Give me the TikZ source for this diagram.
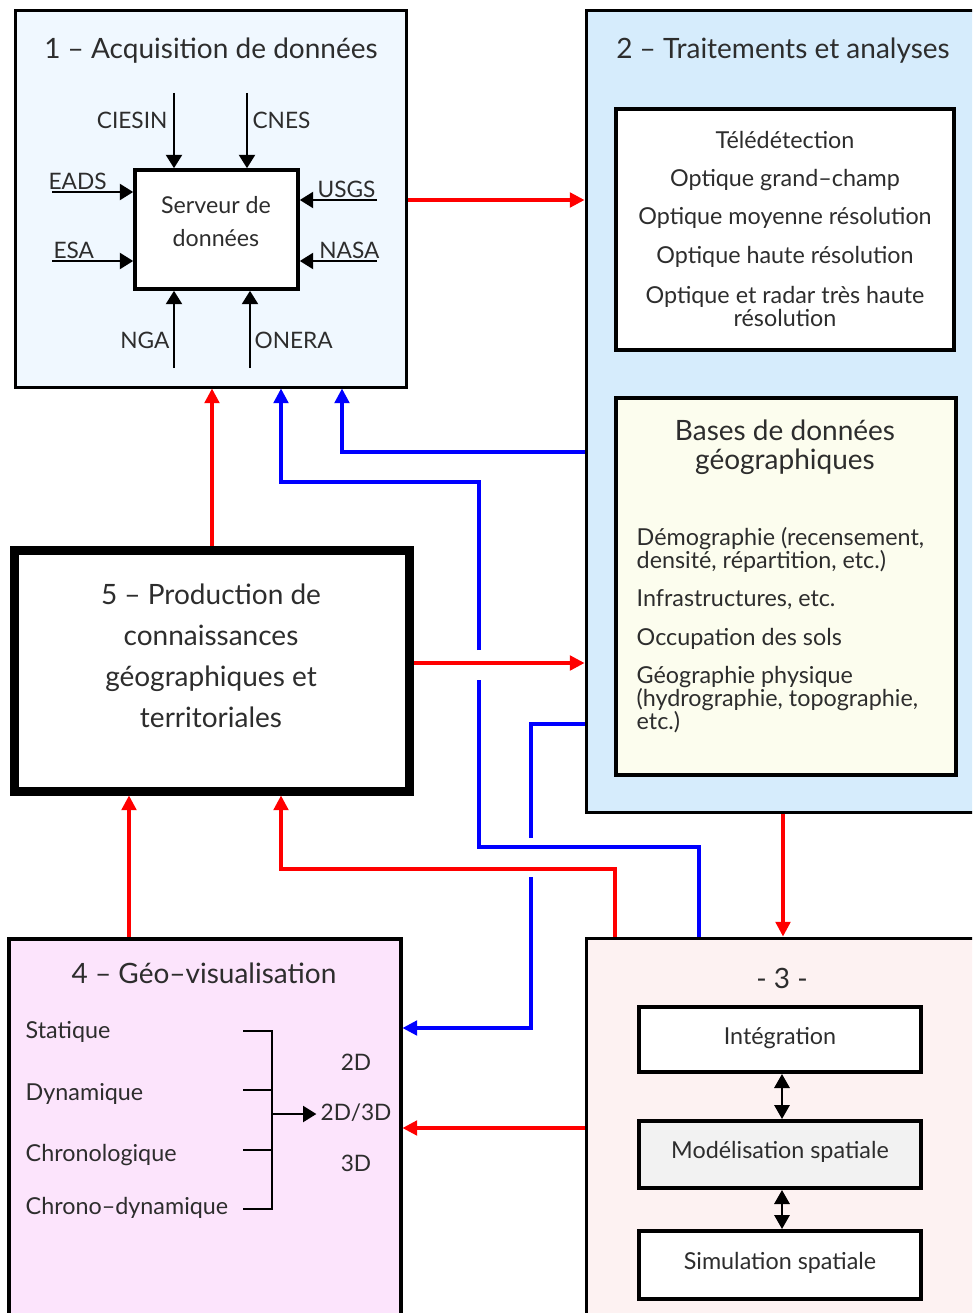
\documentclass[tikz,border=0pt]{standalone}
\usepackage{fontspec}
\setmainfont{Lato}
\usetikzlibrary{arrows.meta,fit,calc}
\definecolor{txt}{RGB}{45,45,45}
\definecolor{fillA}{RGB}{240,248,255}
\definecolor{fillB}{RGB}{214,236,252}
\definecolor{fillBD}{RGB}{252,253,238}
\definecolor{fillC}{RGB}{253,242,242}
\definecolor{fillD}{RGB}{252,228,252}
\definecolor{fillM}{RGB}{242,242,242}
\definecolor{lnred}{RGB}{255,0,0}
\definecolor{lnblue}{RGB}{0,0,255}
\begin{document}
\begin{tikzpicture}[x=0.75pt,y=-0.75pt,
  every node/.style={text=txt},
  bigbox/.style={draw=black, inner sep=0pt, line width=2.25pt},
  subbox/.style={draw=black, inner sep=0pt, line width=3pt},
  ftitle/.style={font=\fontsize{21}{25}\selectfont},
  fitem/.style={font=\fontsize{17.5}{17.25}\selectfont, align=center},
  fsmall/.style={font=\fontsize{17}{20}\selectfont},
  redln/.style={draw=lnred, line width=2.4pt},
  redarr/.style={redln, -{Triangle[length=11pt,width=11pt]}},
  blueln/.style={draw=lnblue, line width=2.4pt},
  bluearr/.style={blueln, -{Triangle[length=11pt,width=11pt]}},
  blkarr/.style={draw=black, line width=1.6pt, -{Triangle[length=10pt,width=12pt]}},
  dblarr/.style={draw=black, line width=1.6pt, {Triangle[length=10.5pt,width=11.5pt]}-{Triangle[length=10.5pt,width=11.5pt]}},
  brk/.style={draw=black, line width=1.2pt}
]
\useasboundingbox (0,0) rectangle (972,1313);
\clip (0,0) rectangle (972,1313);

% ---------- Box 1 ----------
\node[bigbox, fill=fillA, fit={(15,11) (406,387)}] (b1) {};
\node[ftitle] (t1) at (211,51) {1 – Acquisition de données};
\node[subbox, line width=2.7pt, fill=white, fit={(135,170) (298,289)}] (srv) {};
\node[align=center, font=\fontsize{17.4}{24.75}\selectfont] (srvt) at (216,222) {Serveur de\\données};
\coordinate (cA) at (174,93);
\coordinate (cB) at (247,93);
\coordinate (cC) at (52,192);
\coordinate (cD) at (52,261);
\coordinate (cE) at (377,200);
\coordinate (cF) at (377,261);
\coordinate (cG) at (174,368);
\coordinate (cH) at (250,368);
\draw[blkarr] (cA) -- (cA |- srv.north);
\draw[blkarr] (cB) -- (cB |- srv.north);
\draw[blkarr] (cC) -- (srv.west |- cC);
\draw[blkarr] (cD) -- (srv.west |- cD);
\draw[blkarr] (cE) -- (srv.east |- cE);
\draw[blkarr] (cF) -- (srv.east |- cF);
\draw[blkarr] (cG) -- (cG |- srv.south);
\draw[blkarr] (cH) -- (cH |- srv.south);
\node[fsmall, anchor=east, inner sep=1pt] (lciesin) at (169,120) {CIESIN};
\node[fsmall, anchor=west, inner sep=1pt] (lcnes) at (251,120) {CNES};
\node[fsmall, anchor=south west, inner sep=1pt] (leads) at (47,191) {EADS};
\node[fsmall, anchor=south west, inner sep=1pt] (lesa) at (52,260) {ESA};
\node[fsmall, anchor=south east, inner sep=1pt] (lusgs) at (377,199) {USGS};
\node[fsmall, anchor=south east, inner sep=1pt] (lnasa) at (381,260) {NASA};
\node[fsmall, anchor=east, inner sep=1pt] (lnga) at (171,340) {NGA};
\node[fsmall, anchor=west, inner sep=1pt] (lonera) at (253,340) {ONERA};

% ---------- Box 2 ----------
\node[bigbox, fill=fillB, fit={(586,11) (990,812)}] (b2) {};
\node[ftitle] (t2) at (783,51) {2 – Traitements et analyses};
\node[subbox, fill=white, fit={(616,109) (954,350)}] (tel) {};
\node[fitem] (tel1) at (785,140) {Télédétection};
\node[fitem] (tel2) at (785,180) {Optique grand–champ};
\node[fitem] (tel3) at (785,218) {Optique moyenne résolution};
\node[fitem] (tel4) at (785,257) {Optique haute résolution};
\node[fitem] (tel5) at (785,306) {Optique et radar très haute\\résolution};
\node[subbox, fill=fillBD, fit={(616,398) (956,775)}] (bdd) {};
\node[ftitle, align=center, font=\fontsize{21}{21.75}\selectfont] (bddt) at (785,447) {Bases de données\\géographiques};
\node[fitem, align=left, anchor=west] (bd1) at (632,550) {Démographie (recensement,\\densité, répartition, etc.)};
\node[fitem, align=left, anchor=west] (bd2) at (632,600) {Infrastructures, etc.};
\node[fitem, align=left, anchor=west] (bd3) at (632,639) {Occupation des sols};
\node[fitem, align=left, anchor=west] (bd4) at (632,700) {Géographie physique\\(hydrographie, topographie,\\etc.)};

% ---------- Box 5 ----------
\node[draw=black, inner sep=0pt, line width=6.75pt, fill=white, fit={(14.5,550) (409,791)}] (b5) {};
\node[ftitle, align=center, font=\fontsize{21}{30.75}\selectfont] (t5) at (211,656) {5 – Production de\\connaissances\\géographiques et\\territoriales};

% ---------- Box 4 ----------
\node[draw=black, inner sep=0pt, line width=3pt, fill=fillD, fit={(8.5,939) (400.5,1340)}] (b4) {};
\node[ftitle] (t4) at (204,973) {4 – Géo–visualisation};
\node[fitem, anchor=west] (g1) at (21,1032) {Statique};
\node[fitem, anchor=west] (g2) at (21,1094) {Dynamique};
\node[fitem, anchor=west] (g3) at (21,1155) {Chronologique};
\node[fitem, anchor=west] (g4) at (21,1208) {Chrono–dynamique};
\coordinate (k1) at (243,1031);
\coordinate (k2) at (243,1090);
\coordinate (k3) at (243,1150);
\coordinate (k4) at (243,1209);
\coordinate (kv) at (272,0);
\coordinate (km) at (272,1114);
\draw[brk] (k1) -- (kv |- k1) -- (kv |- k4) -- (k4);
\draw[brk] (k2) -- (kv |- k2);
\draw[brk] (k3) -- (kv |- k3);
\node[fsmall] (d1) at (356,1062) {2D};
\node[fsmall, inner sep=3pt] (d2) at (356,1113) {2D/3D};
\node[fsmall] (d3) at (356,1163) {3D};
\draw[blkarr] (km) -- (d2.west |- km);

% ---------- Box 3 ----------
\node[bigbox, fill=fillC, fit={(586,938) (990,1340)}] (b3) {};
\node[ftitle] (t3) at (782,978) {- 3 -};
\node[subbox, fill=white, fit={(639,1007) (921,1072)}] (int) {};
\node[fitem] (intt) at (780,1038) {Intégration};
\node[subbox, fill=fillM, fit={(639,1121) (921,1188)}] (mod) {};
\node[fitem] (modt) at (780,1152) {Modélisation spatiale};
\node[subbox, fill=white, fit={(639,1231) (921,1299)}] (sim) {};
\node[fitem] (simt) at (780,1263) {Simulation spatiale};
\coordinate (xm) at (782,0);
\draw[dblarr] (xm |- int.south) -- (xm |- mod.north);
\draw[dblarr] (xm |- mod.south) -- (xm |- sim.north);

% ---------- Connectors ----------
\coordinate (yA) at (0,200);
\coordinate (yB) at (0,452);
\coordinate (yC) at (0,663);
\coordinate (yD) at (0,724);
\coordinate (yE) at (0,1028);
\coordinate (yF) at (0,1128);
\coordinate (yG) at (0,869);
\coordinate (yH) at (0,847);
\coordinate (yI) at (0,482);
\coordinate (xA) at (212,0);
\coordinate (xB) at (342,0);
\coordinate (xC) at (281,0);
\coordinate (xD) at (129,0);
\coordinate (xE) at (783,0);
\coordinate (xF) at (615,0);
\coordinate (xG) at (699,0);
\coordinate (xH) at (479,0);
\coordinate (xI) at (531,0);
\coordinate (gap1a) at (479,680);
\coordinate (gap1b) at (479,650);
\coordinate (gap2a) at (531,838);
\coordinate (gap2b) at (531,877);

\draw[redarr] (b1.east |- yA) -- (b2.west |- yA);
\draw[redarr] (xA |- b5.north) -- (xA |- b1.south);
\draw[redarr] (b5.east |- yC) -- (b2.west |- yC);
\draw[redarr] (xE |- b2.south) -- (xE |- b3.north);
\draw[redarr] (b3.west |- yF) -- (b4.east |- yF);
\draw[redarr] (xD |- b4.north) -- (xD |- b5.south);
\draw[redarr] (xF |- b3.north) -- (xF |- yG) -| (xC |- b5.south);

\draw[bluearr] (b2.west |- yB) -| (xB |- b1.south);
\draw[blueln] (xG |- b3.north) |- (xH |- yH) -- (gap1a);
\draw[bluearr] (gap1b) -- (xH |- yI) -| (xC |- b1.south);
\draw[blueln] (b2.west |- yD) -| (gap2a);
\draw[bluearr] (gap2b) |- (b4.east |- yE);
\end{tikzpicture}
\end{document}
